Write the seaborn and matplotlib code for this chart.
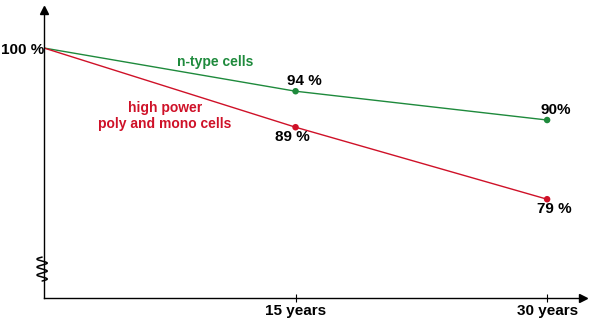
import matplotlib
matplotlib.use("Agg")
import matplotlib.pyplot as plt
import seaborn as sns
import numpy as np
import pandas as pd

# ---- data ----
years = [0, 15, 30]
ntype_values = [100, 94, 90]
standard_values = [100, 89, 79]
ntype_labels = ["", "94 %", "90%"]
standard_labels = ["", "89 %", "79 %"]
xtick_values = [15, 30]
xtick_labels = ["15 years", "30 years"]
ytick_values = [100]
ytick_labels = ["100 %"]
series_names = ["n-type cells", "high power\npoly and mono cells"]

sns.set_theme(style="white")
plt.rcParams['font.family'] = ['Liberation Sans', 'DejaVu Sans']

GREEN = "#1e8a3c"
RED = "#cf1128"
palette = {series_names[0]: GREEN, series_names[1]: RED}

df = pd.DataFrame({
    "year": years + years,
    "value": ntype_values + standard_values,
    "series": [series_names[0]] * len(years) + [series_names[1]] * len(years),
    "label": ntype_labels + standard_labels,
})

fig = plt.figure(figsize=(6, 3.36), dpi=100)
ax = fig.add_axes([44 / 600, 38 / 336, 539 / 600, 288 / 336])

sns.lineplot(data=df, x="year", y="value", hue="series", palette=palette,
             linewidth=1.0, legend=False, ax=ax)
pts = df[df["year"] > 0]
sns.scatterplot(data=pts, x="year", y="value", hue="series", palette=palette,
                s=22, edgecolor="none", legend=False, ax=ax, zorder=3)

ax.set_xlim(0, 32.14)
ax.set_ylim(65.28, 105.28)

# value labels
offsets = {series_names[0]: [(0, 0), (6.5, 7), (6.5, 7)],
           series_names[1]: [(0, 0), (-2, -7), (5, -7)]}
for name, grp in df.groupby("series"):
    for i, (_, row) in enumerate(grp.iterrows()):
        if row["label"]:
            ax.annotate(row["label"], (row["year"], row["value"]),
                        xytext=offsets[name][i], textcoords="offset points",
                        ha="center", va="center", fontsize=11,
                        fontweight="bold", color="black")

# series labels
ax.text(10.2, 98.0, series_names[0], color=GREEN, fontsize=10,
        fontweight="bold", ha="center", va="center")
ax.text(7.2, 90.55, series_names[1], color=RED, fontsize=10,
        fontweight="bold", ha="center", va="center", linespacing=1.2)

# axes styling
for s in ["top", "right"]:
    ax.spines[s].set_visible(False)
for s in ["left", "bottom"]:
    ax.spines[s].set_color("black")
    ax.spines[s].set_linewidth(1.0)

ax.set_xticks(xtick_values, xtick_labels)
ax.set_yticks(ytick_values, ytick_labels)
ax.tick_params(axis="x", bottom=True, direction="inout", length=6, width=0.8,
               color="black", labelsize=11, pad=1.5, labelcolor="black")
ax.tick_params(axis="y", left=False, length=0, pad=-0.5, labelsize=11,
               labelcolor="black")
for lbl in ax.get_xticklabels() + ax.get_yticklabels():
    lbl.set_fontweight("bold")
ax.set_xlabel("")
ax.set_ylabel("")

# arrow heads
ax.plot([0], [1], marker="^", color="black", markersize=6,
        transform=ax.transAxes, clip_on=False)
ax.plot([1], [0], marker=">", color="black", markersize=6,
        transform=ax.transAxes, clip_on=False)

# axis-break squiggle (spring-like)
t = np.linspace(0, 1, 300)
sq_y = 0.059 + t * (0.142 - 0.059)
sq_x = -0.0035 + 0.0095 * np.sin(2 * np.pi * 3.0 * t)
ax.plot(sq_x, sq_y, color="black", lw=1.1, transform=ax.transAxes,
        clip_on=False)

fig.savefig("out.png", dpi=100)
